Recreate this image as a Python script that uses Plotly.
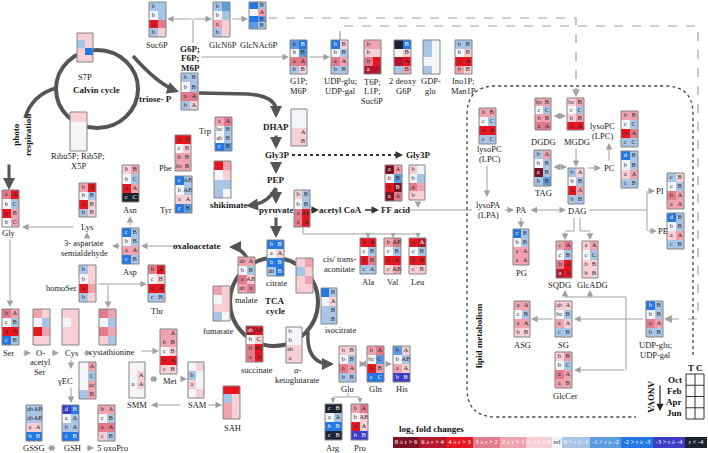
import plotly.graph_objects as go

# ------------------------------------------------------------------
# DATA : log2 fold changes, rows = Oct, Feb, Apr, Jun ; cols = T, C
# ------------------------------------------------------------------
SUC6P = [[-0.5, -0.5], [0, -0.5], [3.5, 2.5], [-0.5, 0.5]]
SUC6P_SIG = [["b", ""], ["b", ""], ["a", ""], ["b", ""]]
GLCN6P = [[-0.5, -1.5], [0, -0.5], [1.5, 0.5], [-0.5, 0.5]]
GLCN6P_SIG = [["b", ""], ["b", ""], ["a", ""], ["b", ""]]
GLCNAC6P = [[-2.5, -0.5], [0, 1.5], [-2.5, -1.5], [-1.5, -0.5]]
GLCNAC6P_SIG = [["", "B"], ["", "A"], ["", "B"], ["", "B"]]
S7P = [[0.5, 0.5], [-0.5, 0.5], [0.5, -2.5], [0.5, 0.5]]
RIBU5P = [[0.5, 0.5], [0, 0], [0, 0], [0, 0]]
G6P = [[-0.5, -0.5], [0, -0.5], [2.5, 2.5], [-0.5, 0.5]]
G6P_SIG = [["b", "B"], ["b", "B"], ["a", "A"], ["b", "A"]]
G1P = [[-1.5, -2.5], [0, -1.5], [2.5, 2.5], [-0.5, 0.5]]
G1P_SIG = [["b", "B"], ["b", "B"], ["a", "A"], ["b", "B"]]
UDPG_A = [[-2.5, 0.5], [0, -0.5], [2.5, 1.5], [-0.5, -0.5]]
UDPG_A_SIG = [["b", "B"], ["b", "B"], ["a", "A"], ["b", "B"]]
T6P = [[1.5, 1.5], [0.5, 0.5], [2.5, 3.5], [5, 5]]
T6P_SIG = [["b", ""], ["b", ""], ["b", ""], ["a", ""]]
DEOXYG6P = [[-5, -2.5], [0, 0.5], [5, 3.5], [-0.5, 1.5]]
DEOXYG6P_SIG = [["", "B"], ["", "B"], ["", "A"], ["", "B"]]
GDPGLU = [[-0.5, 0], [-0.5, 0], [0, 0], [-0.5, 0]]
INO1P = [[-0.5, -0.5], [0, 0.5], [3.5, 3.5], [1.5, 0.5]]
INO1P_SIG = [["b", "B"], ["b", "B"], ["a", "A"], ["b", "B"]]
DHAP = [[0, 0], [0, 0], [0.5, 0.5], [0.5, 0.5]]
DHAP_SIG = [["", ""], ["", ""], ["", "A"], ["", "B"]]
TRP = [[1.5, 2.5], [0, -0.5], [0, -0.5], [-2.5, -1.5]]
TRP_SIG = [["a", "A"], ["bc", "B"], ["ab", "B"], ["c", "B"]]
PHE = [[3.5, 3.5], [0, 0.5], [1.5, 1.5], [1.5, 1.5]]
PHE_SIG = [["a", "A"], ["c", "B"], ["b", "B"], ["bc", "B"]]
TYR = [[-2.5, -0.5], [0, -0.5], [0.5, 0.5], [-2.5, -1.5]]
TYR_SIG = [["c", "AB"], ["b", "AB"], ["a", "A"], ["c", "B"]]
SHIK = [[3.5, 1.5], [0, 0.5], [-0.5, -0.5], [-0.5, 0]]
GLY = [[2.5, 3.5], [0, -0.5], [3.5, 1.5], [0, 1.5]]
GLY_SIG = [["a", "A"], ["b", "C"], ["a", "B"], ["b", "C"]]
LYS = [[1.5, 3.5], [0, -0.5], [3.5, 0.5], [-0.5, 0.5]]
LYS_SIG = [["b", "A"], ["b", "B"], ["a", "B"], ["b", "B"]]
ASN = [[0.5, 1.5], [0, -0.5], [3.5, 1.5], [-5, -5]]
ASN_SIG = [["b", "B"], ["b", "C"], ["a", "A"], ["c", "C"]]
ASP = [[-2.5, -0.5], [0, -0.5], [1.5, 1.5], [-2.5, -0.5]]
ASP_SIG = [["c", "B"], ["b", "B"], ["a", "A"], ["c", "B"]]
HOMOSER = [[-0.5, 0.5], [0, 0.5], [3.5, 1.5], [-0.5, 0.5]]
HOMOSER_SIG = [["b", ""], ["b", ""], ["a", ""], ["b", ""]]
THR = [[2.5, 3.5], [0, 0.5], [3.5, 3.5], [-0.5, -0.5]]
THR_SIG = [["b", "A"], ["c", "B"], ["a", "A"], ["c", "B"]]
GLY3P = [[0.5, 0], [0, -0.5], [2.5, 1.5], [0.5, 0.5]]
GLY3P_SIG = [["b", ""], ["b", ""], ["a", ""], ["b", ""]]
FFACID = [[7, 1.5], [0, -1.5], [3.5, 7], [7, 2.5]]
FFACID_SIG = [["a", "A"], ["b", "B"], ["b", "B"], ["a", "A"]]
PYR = [[0.5, -0.5], [0, -0.5], [2.5, 3.5], [2.5, 3.5]]
PYR_SIG = [["b", "B"], ["b", "B"], ["a", "AB"], ["a", "A"]]
CITRATE = [[-2.5, -2.5], [0, 0.5], [-2.5, -2.5], [-0.5, -2.5]]
CITRATE_SIG = [["b", "B"], ["a", "A"], ["b", "B"], ["ab", "B"]]
MALATE = [[1.5, 1.5], [0, -0.5], [2.5, 0.5], [1.5, 2.5]]
MALATE_SIG = [["ab", "A"], ["b", "B"], ["a", "AB"], ["ab", "a"]]
ACONIT = [[0.5, 1.5], [-0.5, 0.5], [0.5, 1.5], [0.5, 0.5]]
ISOCIT = [[-2.5, -0.5], [0, 0.5], [-0.5, -0.5], [-0.5, -0.5]]
ISOCIT_SIG = [["", "B"], ["", "A"], ["", "B"], ["", "B"]]
ALA = [[3.5, 3.5], [0, -0.5], [3.5, 2.5], [-0.5, -0.5]]
ALA_SIG = [["a", "A"], ["c", "B"], ["b", "B"], ["c", "A"]]
VAL = [[1.5, 2.5], [0, -0.5], [3.5, 3.5], [0.5, 1.5]]
VAL_SIG = [["b", "AB"], ["c", "B"], ["a", "A"], ["c", "AB"]]
LEU = [[3.5, 5], [0, -0.5], [3.5, 3.5], [0.5, 0.5]]
LEU_SIG = [["a", "A"], ["c", "B"], ["b", "B"], ["c", "B"]]
FUMARATE = [[1.5, 0.5], [0, 0.5], [0.5, 0.5], [-0.5, 0]]
SUCCIN = [[5, 3.5], [0, 0.5], [2.5, 3.5], [2.5, 3.5]]
SUCCIN_SIG = [["ab", "AB"], ["b", "C"], ["b", "BC"], ["a", "A"]]
AKG = [[0, 0], [0, 0], [0.5, 0.5], [0.5, 0.5]]
AKG_SIG = [["b", ""], ["b", ""], ["ab", ""], ["a", ""]]
GLU = [[0.5, 0.5], [0, -0.5], [2.5, 1.5], [-0.5, -0.5]]
GLU_SIG = [["b", "B"], ["b", "B"], ["a", "A"], ["b", "B"]]
GLN = [[1.5, 2.5], [0, -1.5], [3.5, 1.5], [-2.5, -2.5]]
GLN_SIG = [["b", "A"], ["bc", "C"], ["a", "B"], ["c", "C"]]
HIS = [[-1.5, 0.5], [0, -0.5], [1.5, 0.5], [-3.5, -3.5]]
HIS_SIG = [["b", "A"], ["b", "AB"], ["a", "A"], ["b", "B"]]
ARG = [[-5, -5], [0, -0.5], [-2.5, -2.5], [-5, -5]]
ARG_SIG = [["c", "B"], ["a", "A"], ["b", "B"], ["c", "B"]]
PRO = [[1.5, 2.5], [0, 0.5], [3.5, 0.5], [-3.5, -3.5]]
PRO_SIG = [["b", "A"], ["b", "AB"], ["a", "A"], ["b", "B"]]
SER = [[2.5, 1.5], [0, -0.5], [3.5, 3.5], [-2.5, -0.5]]
SER_SIG = [["b", "A"], ["c", "B"], ["a", "A"], ["c", "B"]]
OASER = [[1.5, 0.5], [0, -0.5], [3.5, 1.5], [0.5, 0.5]]
CYS = [[0.5, 0.5], [0, 0.5], [0.5, 0.5], [0.5, 0.5]]
CYSTA = [[2.5, 1.5], [0, -0.5], [2.5, 1.5], [0.5, -0.5]]
MET = [[1.5, 1.5], [1.5, 1.5], [0, 0.5], [3.5, 3.5], [0.5, 0.5]]
MET_SIG = [["", "A"], ["b", "B"], ["c", "B"], ["a", "A"], ["c", "B"]]
YEC = [[0, 1.5], [0, -0.5], [0, 1.5], [-0.5, 1.5]]
YEC_SIG = [["", "A"], ["", "C"], ["", "ac"], ["", "B"]]
SMM = [[0, 0], [0, 0.5], [0, 0.5], [0, 0]]
SMM_SIG = [["", ""], ["", "A"], ["a", "A"], ["", ""]]
SAM = [[0, 0.5], [-0.5, 0], [0.5, 0], [0, 0.5]]
SAM_SIG = [["", ""], ["b", ""], ["a", ""], ["", ""]]
SAH = [[3.5, 3.5], [-0.5, 0.5], [1.5, 0.5], [1.5, 0.5]]
GSSG = [[-0.5, -0.5], [-0.5, -0.5], [0.5, 0.5], [-2.5, -2.5]]
GSSG_SIG = [["ab", "AB"], ["ab", "AB"], ["a", "A"], ["b", "B"]]
GSH = [[-3.5, -2.5], [0, -0.5], [-0.5, -0.5], [-2.5, -2.5]]
GSH_SIG = [["d", "B"], ["a", "A"], ["b", "A"], ["c", "B"]]
OXOPRO = [[1.5, 1.5], [0, -0.5], [2.5, 2.5], [0.5, -0.5]]
OXOPRO_SIG = [["b", "A"], ["c", "B"], ["a", "A"], ["c", "B"]]
DGDG = [[1.5, 1.5], [0, -0.5], [1.5, 1.5], [2.5, 2.5]]
DGDG_SIG = [["bc", "B"], ["c", "C"], ["b", "B"], ["a", "A"]]
MGDG = [[0.5, 1.5], [0, -0.5], [0.5, 1.5], [3.5, 3.5]]
MGDG_SIG = [["bc", "B"], ["c", "C"], ["b", "B"], ["a", "A"]]
LYSOPC_A = [[1.5, 1.5], [0, -0.5], [3.5, 3.5], [-0.5, -0.5]]
LYSOPC_A_SIG = [["b", "B"], ["c", "C"], ["a", "A"], ["c", "C"]]
LYSOPC_B = [[1.5, 1.5], [0, -0.5], [3.5, 2.5], [-0.5, -0.5]]
LYSOPC_B_SIG = [["b", "B"], ["c", "C"], ["a", "A"], ["c", "C"]]
PC = [[-2.5, -0.5], [0, -0.5], [0.5, 1.5], [-0.5, -0.5]]
PC_SIG = [["d", "B"], ["b", "B"], ["a", "A"], ["c", "B"]]
TAG = [[-0.5, 1.5], [0, -0.5], [7, -0.5], [-0.5, -1.5]]
TAG_SIG = [["b", "A"], ["b", "B"], ["a", "B"], ["b", "B"]]
DAG = [[-0.5, 0.5], [0, -0.5], [3.5, 1.5], [-0.5, -0.5]]
DAG_SIG = [["b", "A"], ["b", "B"], ["a", "A"], ["b", "B"]]
PG = [[-2.5, -0.5], [0, -0.5], [1.5, 1.5], [1.5, 1.5]]
PG_SIG = [["c", "B"], ["b", "B"], ["a", "A"], ["a", "A"]]
PI = [[-0.5, 0.5], [0, -0.5], [2.5, 1.5], [1.5, 1.5]]
PI_SIG = [["c", "B"], ["c", "B"], ["b", "A"], ["a", "A"]]
PE = [[-2.5, -0.5], [0, -0.5], [0.5, 1.5], [-0.5, -0.5]]
PE_SIG = [["d", "B"], ["b", "B"], ["a", "A"], ["c", "B"]]
SQDG = [[1.5, 2.5], [0, -0.5], [2.5, 3.5], [5, 3.5]]
SQDG_SIG = [["c", "A"], ["c", "B"], ["b", "A"], ["a", "A"]]
GLCADG = [[0.5, 1.5], [0, -0.5], [0.5, 0.5], [0.5, 0.5]]
GLCADG_SIG = [["a", "A"], ["c", "C"], ["b", "B"], ["b", "B"]]
ASG = [[1.5, 1.5], [0, -0.5], [1.5, 1.5], [0.5, 0.5]]
ASG_SIG = [["a", "A"], ["c", "B"], ["a", "A"], ["b", "B"]]
SG = [[0.5, 0.5], [0, -0.5], [1.5, 0.5], [-0.5, -0.5]]
SG_SIG = [["ab", "A"], ["bc", "B"], ["a", "A"], ["c", "B"]]
GLCCER = [[0.5, 1.5], [0, -0.5], [2.5, 1.5], [1.5, 1.5]]
GLCCER_SIG = [["b", "B"], ["b", "C"], ["a", "A"], ["a", "B"]]
UDPG_B = [[-2.5, -0.5], [0, -0.5], [2.5, 1.5], [-0.5, -0.5]]
UDPG_B_SIG = [["b", "B"], ["b", "B"], ["a", "A"], ["b", "B"]]

LEGEND_LABELS = ["8 ≥ r > 6", "6 ≥ r > 4", "4 ≥ r > 3", "3 ≥ r > 2", "2 ≥ r > 1",
                 "1 ≥ r > 0", "ref", "0 > r ≥ -1", "-1 > r ≥ -2", "-2 > r ≥ -3",
                 "-3 > r ≥ -4", "r < -4"]
MONTHS = ["Oct", "Feb", "Apr", "Jun"]
TREATMENTS = ["T", "C"]

# ------------------------------------------------------------------
# STYLE / LAYOUT
# ------------------------------------------------------------------
COLORS = ["#7b1422", "#b21a2c", "#e5161f", "#e27b8b", "#efa3ae", "#f7d0d6",
          "#f4f5f9", "#a8c5e6", "#5d9be0", "#2378e6", "#3c3cc6", "#1e2333"]
FONT = "Liberation Serif, Times New Roman, serif"
GRAY = "#a0a0a0"
DARK = "#555555"

# box geometry (x0, y0, x1, y1) in pixel coordinates
BOXES = [
    (SUC6P, SUC6P_SIG, (149, 2, 166, 37)),
    (GLCN6P, GLCN6P_SIG, (213, 2, 230, 37)),
    (GLCNAC6P, GLCNAC6P_SIG, (249, 2, 266, 29)),
    (S7P, None, (77, 33, 93, 62)),
    (RIBU5P, None, (70, 112, 87, 151)),
    (G6P, G6P_SIG, (181, 73, 198, 110)),
    (G1P, G1P_SIG, (290, 40, 307, 74)),
    (UDPG_A, UDPG_A_SIG, (331, 40, 348, 74)),
    (T6P, T6P_SIG, (364, 40, 381, 74)),
    (DEOXYG6P, DEOXYG6P_SIG, (394, 40, 411, 74)),
    (GDPGLU, None, (423, 40, 440, 74)),
    (INO1P, INO1P_SIG, (455, 40, 472, 74)),
    (DHAP, DHAP_SIG, (291, 109, 307, 146)),
    (TRP, TRP_SIG, (215, 117, 232, 151)),
    (PHE, PHE_SIG, (175, 135, 191, 171)),
    (TYR, TYR_SIG, (175, 176, 192, 213)),
    (SHIK, None, (214, 161, 231, 198)),
    (GLY, GLY_SIG, (2, 190, 19, 227)),
    (LYS, LYS_SIG, (79, 183, 96, 217)),
    (ASN, ASN_SIG, (122, 165, 139, 202)),
    (ASP, ASP_SIG, (122, 228, 139, 264)),
    (HOMOSER, HOMOSER_SIG, (79, 265, 96, 302)),
    (THR, THR_SIG, (148, 265, 165, 302)),
    (GLY3P, GLY3P_SIG, (409, 165, 425, 200)),
    (FFACID, FFACID_SIG, (385, 165, 402, 201)),
    (PYR, PYR_SIG, (294, 190, 310, 227)),
    (CITRATE, CITRATE_SIG, (267, 240, 284, 276)),
    (MALATE, MALATE_SIG, (238, 257, 255, 293)),
    (ACONIT, None, (296, 258, 313, 293)),
    (ISOCIT, ISOCIT_SIG, (321, 288, 337, 324)),
    (ALA, ALA_SIG, (360, 238, 376, 274)),
    (VAL, VAL_SIG, (384, 238, 401, 274)),
    (LEU, LEU_SIG, (409, 238, 426, 274)),
    (FUMARATE, None, (213, 286, 230, 321)),
    (SUCCIN, SUCCIN_SIG, (246, 326, 263, 362)),
    (AKG, AKG_SIG, (286, 327, 302, 363)),
    (GLU, GLU_SIG, (339, 346, 356, 382)),
    (GLN, GLN_SIG, (367, 346, 384, 382)),
    (HIS, HIS_SIG, (393, 346, 410, 382)),
    (ARG, ARG_SIG, (325, 404, 342, 440)),
    (PRO, PRO_SIG, (351, 404, 368, 440)),
    (SER, SER_SIG, (2, 309, 19, 345)),
    (OASER, None, (33, 309, 50, 345)),
    (CYS, None, (62, 309, 79, 345)),
    (CYSTA, None, (99, 309, 116, 345)),
    (MET, MET_SIG, (160, 329, 177, 374)),
    (YEC, YEC_SIG, (79, 362, 96, 399)),
    (SMM, SMM_SIG, (129, 362, 145, 398)),
    (SAM, SAM_SIG, (188, 362, 204, 398)),
    (SAH, None, (223, 386, 240, 419)),
    (GSSG, GSSG_SIG, (26, 405, 42, 441)),
    (GSH, GSH_SIG, (62, 405, 79, 441)),
    (OXOPRO, OXOPRO_SIG, (98, 405, 115, 441)),
    (DGDG, DGDG_SIG, (535, 98, 551, 130)),
    (MGDG, MGDG_SIG, (567, 98, 584, 130)),
    (LYSOPC_A, LYSOPC_A_SIG, (479, 108, 496, 144)),
    (LYSOPC_B, LYSOPC_B_SIG, (621, 111, 638, 147)),
    (PC, PC_SIG, (621, 151, 638, 188)),
    (TAG, TAG_SIG, (534, 150, 551, 186)),
    (DAG, DAG_SIG, (568, 168, 584, 204)),
    (PG, PG_SIG, (513, 229, 529, 265)),
    (PI, PI_SIG, (667, 173, 684, 209)),
    (PE, PE_SIG, (667, 213, 684, 249)),
    (SQDG, SQDG_SIG, (556, 241, 572, 278)),
    (GLCADG, GLCADG_SIG, (582, 241, 598, 278)),
    (ASG, ASG_SIG, (514, 301, 530, 337)),
    (SG, SG_SIG, (555, 301, 572, 337)),
    (GLCCER, GLCCER_SIG, (555, 352, 572, 388)),
    (UDPG_B, UDPG_B_SIG, (646, 301, 663, 337)),
]

# labels: (text, x, y-centre of block, bold)
LABELS = [
    ("Suc6P", 157, 45, 0), ("GlcN6P", 223, 45, 0), ("GlcNAc6P", 259, 45, 0),
    ("G6P;<br>F6P;<br>M6P", 190, 58, 1), ("S7P", 85, 77, 0),
    ("Calvin cycle", 96, 90, 1), ("triose- P", 155, 99, 1),
    ("G1P;<br>M6P", 298, 86, 0), ("UDP-glu;<br>UDP-gal", 340, 86, 0),
    ("T6P;<br>L1P;<br>Suc6P", 372, 91, 0), ("2 deoxy<br>G6P", 403, 86, 0),
    ("GDP-<br>glu", 431, 86, 0), ("Ino1P;<br>Man1P", 463, 86, 0),
    ("DHAP", 276, 127, 1), ("Trp", 205, 131, 0), ("Phe", 165, 168, 0),
    ("Tyr", 166, 210, 0), ("shikimate", 229, 205, 1),
    ("Ribu5P; Rib5P;<br>X5P", 78, 161, 0),
    ("Gly", 9, 233, 0), ("Lys", 87, 227, 0), ("Asn", 130, 210, 0),
    ("3- aspartate<br>semialdehyde", 84, 248, 0), ("Asp", 130, 272, 0),
    ("oxaloacetate", 196, 246, 1), ("homoSer", 61, 288, 0), ("Thr", 157, 311, 0),
    ("Gly3P", 277, 155, 1), ("PEP", 276, 180, 1), ("pyruvate", 276, 210, 1),
    ("acetyl CoA", 340, 210, 1), ("FF acid", 395, 210, 1), ("Gly3P", 418, 155, 1),
    ("citrate", 276, 283, 0), ("malate", 246, 300, 0),
    ("cis/ trans-<br>aconitate", 339, 264, 0),
    ("Ala", 368, 282, 0), ("Val", 393, 282, 0), ("Leu", 418, 282, 0),
    ("isocitrate", 340, 330, 0), ("TCA<br>cycle", 275, 306, 1),
    ("fumarate", 218, 331, 0), ("succinate", 257, 370, 0),
    ("α-<br>ketoglutarate", 297, 375, 0),
    ("Glu", 348, 389, 0), ("Gln", 376, 389, 0), ("His", 402, 389, 0),
    ("Arg", 333, 448, 0), ("Pro", 360, 448, 0),
    ("Ser", 9, 353, 0), ("O-<br>acetyl<br>Ser", 40, 362, 0), ("Cys", 71, 353, 0),
    ("cystathionine", 112, 352, 0), ("Met", 170, 381, 0), ("γEC", 65, 381, 0),
    ("SMM", 137, 405, 0), ("SAM", 197, 405, 0), ("SAH", 232, 428, 0),
    ("GSSG", 34, 448, 0), ("GSH", 72, 448, 0), ("5 oxoPro", 112, 448, 0),
    ("DGDG", 543, 142, 0), ("MGDG", 577, 142, 0),
    ("lysoPC<br>(LPC)", 489, 154, 0), ("lysoPC<br>(LPC)", 602, 131, 0),
    ("PC", 609, 168, 0), ("TAG", 543, 193, 0), ("DAG", 577, 211, 0),
    ("lysoPA<br>(LPA)", 488, 210, 0), ("PA", 521, 210, 0), ("PG", 521, 273, 0),
    ("PI", 660, 191, 0), ("PE", 663, 231, 0),
    ("SQDG", 559, 285, 0), ("GlcADG", 592, 285, 0),
    ("ASG", 522, 345, 0), ("SG", 563, 345, 0), ("GlcCer", 565, 396, 0),
    ("UDP-glu;<br>UDP-gal", 655, 350, 0),
]


def fc_class(v):
    if v > 6: return 0
    if v > 4: return 1
    if v > 3: return 2
    if v > 2: return 3
    if v > 1: return 4
    if v > 0: return 5
    if v == 0: return 6
    if v >= -1: return 7
    if v >= -2: return 8
    if v >= -3: return 9
    if v >= -4: return 10
    return 11


n = len(COLORS)
CSCALE = []
for i, c in enumerate(COLORS):
    CSCALE.append([i / n, c])
    CSCALE.append([(i + 1) / n, c])

fig = go.Figure()
shapes = []
annotations = []

sx, sy, stxt, scol = [], [], [], []
for vals, sig, (x0, y0, x1, y1) in BOXES:
    rows = len(vals)
    cw = (x1 - x0) / 2
    ch = (y1 - y0) / rows
    z = [[fc_class(v) for v in r] for r in vals]
    fig.add_trace(go.Heatmap(z=z, x0=x0 + cw / 2, dx=cw, y0=y0 + ch / 2, dy=ch,
                             zmin=-0.5, zmax=n - 0.5, colorscale=CSCALE,
                             showscale=False, hoverinfo="skip"))
    shapes.append(dict(type="rect", x0=x0, x1=x1, y0=y0, y1=y1,
                       line=dict(color="#858585", width=1), layer="above"))
    if sig:
        for ri, r in enumerate(sig):
            for ci, t in enumerate(r):
                if t:
                    sx.append(x0 + cw * (ci + 0.5))
                    sy.append(y0 + ch * (ri + 0.5))
                    stxt.append(t)
                    k = z[ri][ci]
                    scol.append("#ffffff" if k in (0, 1, 9, 10, 11) else "#2a2a2a")

# legend bar as heatmap with uneven bin edges
LEG_EDGES = [393, 419, 446, 473, 500, 526, 552, 562, 590, 621, 653, 685, 707]
fig.add_trace(go.Heatmap(z=[list(range(n))], x=LEG_EDGES, y=[437, 448],
                         zmin=-0.5, zmax=n - 0.5, colorscale=CSCALE,
                         showscale=False, hoverinfo="skip"))
for i, lab in enumerate(LEGEND_LABELS):
    cx = (LEG_EDGES[i] + LEG_EDGES[i + 1]) / 2
    sx.append(cx); sy.append(442.5); stxt.append(lab)
    scol.append("#333333" if i == 6 else "#ffffff")

fig.add_trace(go.Scatter(x=sx, y=sy, text=stxt, mode="text",
                         textfont=dict(family=FONT, size=6.5, color=scol),
                         hoverinfo="skip", showlegend=False))

# ------------------------------------------------------------------
# connectors
# ------------------------------------------------------------------

def line(x0, y0, x1, y1, color=GRAY, width=1, dash="solid"):
    shapes.append(dict(type="line", x0=x0, y0=y0, x1=x1, y1=y1, layer="below",
                       line=dict(color=color, width=width, dash=dash)))


def path(d, color=DARK, width=3.5, dash="solid"):
    shapes.append(dict(type="path", path=d, layer="below",
                       line=dict(color=color, width=width, dash=dash)))


def arrow(x0, y0, x1, y1, color=GRAY, width=1, size=1.3, both=False, head=2):
    annotations.append(dict(x=x1, y=y1, ax=x0, ay=y0, xref="x", yref="y",
                            axref="x", ayref="y", text="", showarrow=True,
                            arrowhead=head, arrowsize=size, arrowwidth=width,
                            arrowcolor=color, standoff=0, startstandoff=0,
                            arrowside="end+start" if both else "end",
                            startarrowhead=head, startarrowsize=size))


# thick pathway arrows
shapes.append(dict(type="circle", x0=56, y0=50, x1=138, y1=128, layer="below",
                   line=dict(color=DARK, width=4)))
shapes.append(dict(type="circle", x0=230, y0=258, x1=318, y1=346, layer="below",
                   line=dict(color=DARK, width=4)))
path("M133,56 Q156,82 174,90")
arrow(168, 88, 179, 92, DARK, 3, 0.8)
path("M199,93 L248,94 Q275,96 276,110")
arrow(276, 108, 276, 118, DARK, 3, 0.8)
path("M56,88 Q32,95 25,118")
arrow(9, 163, 9, 190, DARK, 3, 0.8)
arrow(276, 134, 276, 149, DARK, 3, 0.8)
arrow(276, 161, 276, 174, DARK, 3, 0.8)
arrow(276, 187, 276, 204, DARK, 3, 0.8)
path("M276,188 Q268,203 252,205")
arrow(254, 205, 246, 206, DARK, 3, 0.8)
arrow(276, 216, 276, 238, DARK, 3, 0.8)
path("M252,268 Q245,250 234,247")
arrow(236, 247, 229, 247, DARK, 3, 0.8)
path("M308,332 Q306,360 326,364")
arrow(325, 364, 334, 364, DARK, 3, 0.8)

# top sugars
line(193, 43, 193, 19)
arrow(193, 19, 167, 19)
arrow(193, 19, 212, 19)
arrow(231, 19, 248, 19)
arrow(200, 57, 289, 57)
arrow(308, 57, 330, 57)
# dashed long connectors
path("M268,18 L576,18 L576,92", GRAY, 1.2, "dash")
arrow(576, 90, 576, 97, GRAY, 1.2)
path("M340,40 L340,26 L698,26 L698,319 L670,319", GRAY, 1.2, "dash")
arrow(672, 319, 664, 319, GRAY, 1.2)
# Gly3P dotted
line(292, 155, 396, 155, "#333333", 2, "dot")
arrow(395, 155, 403, 155, "#333333", 1.5, 1)
line(311, 210, 316, 210, "#333333", 1.5, "dot")
arrow(314, 210, 319, 210, "#333333", 1.5, 1)
line(365, 210, 374, 210, "#333333", 1.5, "dash")
arrow(373, 210, 379, 210, "#333333", 1.5, 1)
arrow(418, 201, 418, 208)
line(410, 210, 472, 210)
# pyruvate to amino acids
line(303, 228, 303, 234)
line(303, 234, 418, 234)
arrow(368, 233, 368, 238, GRAY, 1, 1)
arrow(393, 233, 393, 238, GRAY, 1, 1)
arrow(418, 233, 418, 238, GRAY, 1, 1)
# aspartate family
arrow(130, 227, 130, 216)
arrow(121, 246, 112, 246)
arrow(87, 239, 87, 232)
arrow(180, 246, 141, 246)
arrow(75, 227, 22, 227)
arrow(10, 238, 10, 307)
arrow(97, 284, 147, 284)
arrow(108, 284, 108, 308)
# sulfur metabolism
arrow(22, 353, 31, 353)
arrow(51, 353, 59, 353)
arrow(82, 353, 92, 353)
arrow(140, 351, 159, 351)
arrow(71, 358, 71, 369)
arrow(71, 386, 71, 403)
arrow(46, 448, 56, 448, both=True)
arrow(85, 448, 94, 448)
arrow(148, 379, 158, 379, both=True)
arrow(179, 379, 187, 379)
arrow(182, 405, 151, 405)
arrow(207, 405, 222, 405)
# glutamate family
arrow(358, 364, 366, 364, both=True)
arrow(385, 364, 392, 364)
line(348, 393, 348, 397)
line(333, 397, 360, 397)
arrow(333, 397, 333, 403, GRAY, 1, 1)
arrow(360, 397, 360, 403, GRAY, 1, 1)
# lipids
arrow(552, 116, 566, 116, both=True)
arrow(576, 147, 576, 167)
arrow(552, 167, 567, 167, both=True)
arrow(586, 168, 601, 168)
arrow(609, 162, 609, 143)
arrow(487, 164, 487, 197)
arrow(503, 210, 514, 210)
arrow(529, 210, 566, 210, both=True)
arrow(521, 216, 521, 228)
line(589, 210, 647, 210)
line(647, 191, 647, 231)
arrow(647, 191, 655, 191)
arrow(647, 231, 657, 231)
line(574, 218, 574, 231); line(574, 231, 565, 231)
arrow(565, 231, 565, 240)
line(580, 218, 580, 231); line(580, 231, 590, 231)
arrow(590, 231, 590, 240)
line(565, 297, 626, 297)
arrow(565, 297, 565, 290)
arrow(590, 297, 590, 290)
line(626, 297, 626, 370)
arrow(626, 370, 574, 370)
arrow(645, 319, 574, 319)
arrow(554, 319, 531, 319)
# lipid metabolism region
path("M693,355 L693,114 Q693,86 665,86 L496,86 Q467,86 467,115 L467,388 "
     "Q467,417 496,417 L636,417", "#444444", 1.3, "dot")

# ANOVA key
shapes.append(dict(type="rect", x0=686, x1=704, y0=374, y1=419,
                   line=dict(color="#333333", width=1)))
line(695, 374, 695, 419, "#333333", 1)
for yy in (385.25, 396.5, 407.75):
    line(686, yy, 704, yy, "#333333", 1)
arrow(660, 384, 660, 411, "#222222", 1.2, 1.2)

for i, m in enumerate(MONTHS):
    annotations.append(dict(x=684, y=379.6 + i * 11.25, xref="x", yref="y",
                            text="<b>%s</b>" % m, showarrow=False, xanchor="right",
                            font=dict(family=FONT, size=9, color="#111111")))
for i, t in enumerate(TREATMENTS):
    annotations.append(dict(x=690.5 + i * 9, y=368, xref="x", yref="y",
                            text="<b>%s</b>" % t, showarrow=False,
                            font=dict(family=FONT, size=9, color="#111111")))
annotations.append(dict(x=651, y=397, xref="x", yref="y", text="<b>ANOVA</b>",
                        textangle=90, showarrow=False,
                        font=dict(family=FONT, size=9, color="#111111")))
annotations.append(dict(x=22, y=135, xref="x", yref="y",
                        text="<b>photo<br>respiration</b>", textangle=-90,
                        showarrow=False,
                        font=dict(family=FONT, size=9, color="#111111")))
annotations.append(dict(x=479, y=336, xref="x", yref="y",
                        text="<b>lipid metabolism</b>", textangle=-90,
                        showarrow=False,
                        font=dict(family=FONT, size=9, color="#111111")))
annotations.append(dict(x=397, y=429, xref="x", yref="y", xanchor="left",
                        text="<b>log<sub>2</sub> fold changes</b>", showarrow=False,
                        font=dict(family=FONT, size=9, color="#111111")))

LINE_STEP = 9.5
for txt, x, y, b in LABELS:
    parts = txt.split("<br>")
    k = len(parts)
    for j, p in enumerate(parts):
        yy = y - (k - 1) * LINE_STEP / 2 + j * LINE_STEP
        annotations.append(dict(x=x, y=yy, xref="x", yref="y",
                                text="<b>%s</b>" % p if b else p,
                                showarrow=False,
                                font=dict(family=FONT, size=9 if b else 8.5,
                                          color="#1a1a1a")))

fig.update_layout(
    width=708, height=453, margin=dict(l=0, r=0, t=0, b=0),
    paper_bgcolor="white", plot_bgcolor="white", showlegend=False,
    xaxis=dict(range=[0, 708], visible=False, fixedrange=True),
    yaxis=dict(range=[453, 0], visible=False, fixedrange=True),
    shapes=shapes, annotations=annotations,
)
fig.write_html("out.html", config={"displayModeBar": False},
               post_script="document.body.style.margin='0';")
